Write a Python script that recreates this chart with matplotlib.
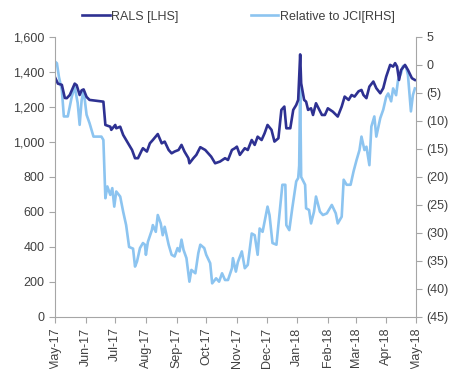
import matplotlib

matplotlib.use("agg")
import matplotlib.dates as mdates
import matplotlib.pyplot as plt
import numpy as np
import pandas as pd
from matplotlib.ticker import FuncFormatter, MultipleLocator

# series start date, offsets in days
start = pd.Timestamp("2017-05-01")

rals_days = [0, 3, 7, 10, 12, 15, 20, 22, 25, 27, 29, 32, 35, 49, 51, 56, 57, 61, 62, 66,
             69, 74, 78, 81, 84, 88, 89, 93, 96, 99, 104, 108, 111, 115, 118, 121, 125, 128,
             131, 135, 136, 140, 143, 147, 152, 155, 158, 162, 167, 172, 175, 179, 182, 184,
             187, 192, 195, 199, 202, 205, 209, 212, 215, 219, 222, 226, 229, 232, 234, 238,
             241, 244, 246, 248, 249, 252, 254, 256, 259, 261, 264, 270, 273, 276, 281, 286,
             290, 293, 297, 300, 303, 307, 310, 312, 315, 318, 322, 325, 329, 332, 335, 339,
             342, 344, 346, 348, 350, 354, 357, 361, 364]
rals = [1370, 1333, 1326, 1251, 1250, 1268, 1333, 1324, 1268, 1295, 1300, 1257, 1240, 1230,
        1097, 1087, 1069, 1097, 1078, 1087, 1040, 992, 954, 907, 907, 954, 964, 945, 992,
        1011, 1045, 992, 1002, 954, 935, 945, 954, 983, 945, 907, 878, 907, 926, 970, 954,
        935, 916, 878, 888, 907, 897, 954, 964, 973, 926, 964, 954, 1011, 983, 1030, 1011,
        1049, 1097, 1069, 1002, 1021, 1183, 1202, 1078, 1078, 1183, 1211, 1240, 1500, 1335,
        1240, 1230, 1183, 1192, 1154, 1221, 1154, 1154, 1192, 1173, 1145, 1202, 1259, 1240,
        1268, 1259, 1289, 1297, 1268, 1250, 1316, 1345, 1307, 1278, 1307, 1373, 1440, 1430,
        1450, 1430, 1354, 1411, 1440, 1411, 1364, 1354]

rel_days = [0, 2, 4, 7, 9, 13, 17, 20, 23, 25, 27, 29, 32, 35, 39, 47, 49, 51, 53, 56, 58,
            60, 62, 66, 69, 72, 75, 79, 81, 83, 86, 89, 91, 92, 94, 98, 99, 102, 104, 107,
            109, 111, 115, 118, 121, 124, 126, 128, 130, 133, 136, 138, 142, 145, 147, 151,
            153, 157, 159, 163, 166, 169, 172, 175, 179, 180, 183, 185, 189, 192, 195, 199,
            202, 205, 207, 210, 215, 217, 220, 224, 227, 230, 233, 234, 237, 240, 244, 246,
            247, 248, 249, 253, 254, 257, 259, 262, 264, 268, 271, 275, 280, 284, 286, 290,
            292, 295, 299, 302, 305, 308, 310, 313, 315, 318, 320, 323, 325, 329, 332, 335,
            337, 340, 342, 345, 347, 350, 352, 355, 357, 360, 362, 364]
rel_jci = [0.6, 0.3, -2.1, -4.5, -9.2, -9.2, -5.7, -3.9, -6.8, -10.7, -6.3, -4.5, -8.9,
           -10.4, -12.8, -12.8, -13.4, -23.8, -21.7, -23.2, -22.0, -25.3, -22.6, -23.5,
           -26.2, -28.6, -32.5, -32.8, -36.0, -35.1, -32.7, -31.8, -32.1, -33.9, -31.6,
           -29.5, -28.6, -29.8, -26.8, -28.3, -30.4, -28.9, -32.1, -33.9, -34.2, -32.7,
           -33.3, -31.2, -33.0, -34.5, -38.7, -36.6, -37.2, -33.6, -32.1, -32.7, -33.9,
           -35.4, -39.0, -38.1, -38.7, -37.2, -38.4, -38.4, -36.3, -34.5, -36.9, -35.2,
           -33.3, -36.3, -35.7, -30.1, -30.4, -33.9, -29.2, -29.8, -25.3, -26.8, -31.8,
           -32.1, -26.8, -21.4, -21.4, -28.6, -29.5, -25.6, -20.8, -20.2, -18.0, -3.6,
           -20.0, -21.4, -25.6, -25.9, -28.3, -26.2, -23.5, -26.2, -26.8, -26.5, -25.0,
           -26.5, -28.3, -27.1, -20.5, -21.4, -21.4, -19.0, -17.0, -15.2, -12.8, -15.2,
           -14.6, -17.9, -11.0, -9.2, -12.8, -9.5, -8.0, -5.7, -5.1, -6.5, -4.2, -5.4,
           -2.7, -1.5, -0.2, -0.3, -1.8, -8.3, -5.4, -4.2]

rals_dates = start + pd.to_timedelta(rals_days, unit="D")
rel_dates = start + pd.to_timedelta(rel_days, unit="D")

dark = "#2e3192"
light = "#8cc4f0"
grey = "#a6a6a6"
txt = "#404040"

plt.rcParams["font.family"] = ["Liberation Sans", "DejaVu Sans"]

fig = plt.figure(figsize=(4.54, 3.69), dpi=100)
ax1 = fig.add_axes([0.121, 0.141, 0.795, 0.759])
ax2 = ax1.twinx()
ax1.set_zorder(ax2.get_zorder() + 1)
ax1.patch.set_visible(False)

l1, = ax1.plot(rals_dates, rals, color=dark, lw=1.9, label="RALS [LHS]")
l2, = ax2.plot(rel_dates, rel_jci, color=light, lw=1.9, label="Relative to JCI[RHS]")

ax1.set_ylim(0, 1600)
ax1.yaxis.set_major_locator(MultipleLocator(200))
ax1.yaxis.set_major_formatter(FuncFormatter(lambda v, p: f"{v:,.0f}"))
ax2.set_ylim(-45, 5)
ax2.yaxis.set_major_locator(MultipleLocator(5))
ax2.yaxis.set_major_formatter(
    FuncFormatter(lambda v, p: f"({abs(v):.0f})" if v < 0 else f"{v:.0f}"))

ax1.set_xlim(pd.Timestamp("2017-05-01"), pd.Timestamp("2018-05-01"))
ax1.xaxis.set_major_locator(mdates.MonthLocator())
ax1.xaxis.set_major_formatter(mdates.DateFormatter("%b-%y"))
for lab in ax1.get_xticklabels():
    lab.set_rotation(90)

for ax in (ax1, ax2):
    ax.spines["top"].set_visible(False)
    for s in ("left", "right", "bottom"):
        ax.spines[s].set_color(grey)
    ax.tick_params(colors=grey, labelcolor=txt, labelsize=9, length=4)
ax1.spines["right"].set_visible(False)
ax2.spines["left"].set_visible(False)
ax2.spines["bottom"].set_visible(False)

fig.legend(handles=[l1, l2], loc="center", bbox_to_anchor=(0.525, 0.955), ncol=2,
           frameon=False, fontsize=9, handlelength=2.2, handletextpad=0.1,
           columnspacing=5.8, labelcolor=txt)

plt.savefig("out.png", dpi=100)
plt.close()
